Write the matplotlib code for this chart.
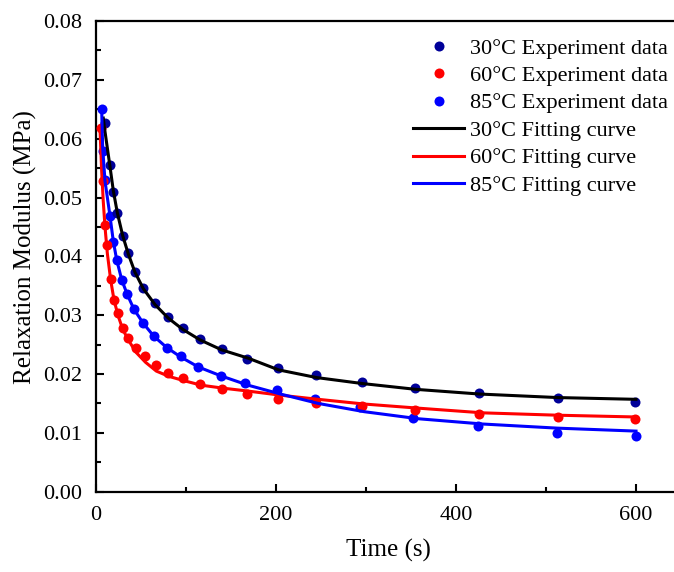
#!/usr/bin/env python3
"""Relaxation modulus vs time at three temperatures: experiment points and fitted curves."""

import matplotlib

matplotlib.use("Agg")
import matplotlib.pyplot as plt
from matplotlib.ticker import MultipleLocator

# experiment data (time in s, modulus in MPa)
t_30 = [10.0, 15.6, 19.2, 23.7, 29.7, 35.9, 43.3, 52.6, 65.6, 80.3, 96.3,
        115.6, 139.7, 167.4, 202.6, 244.4, 295.2, 354.4, 425.9, 513.0, 599.4]
e_30 = [0.0626, 0.0555, 0.0510, 0.0474, 0.0435, 0.0405, 0.0374, 0.0346, 0.0321, 0.0297, 0.0278,
        0.0259, 0.0242, 0.0225, 0.0211, 0.0199, 0.0187, 0.0177, 0.0167, 0.0159, 0.0152]

t_60 = [5.2, 7.4, 10.0, 12.6, 16.3, 20.0, 24.4, 29.7, 35.9, 44.4, 54.4, 66.7,
        80.3, 96.3, 115.6, 139.7, 167.4, 202.6, 244.4, 295.2, 354.4, 425.9, 513.0, 599.4]
e_60 = [0.0618, 0.0528, 0.0454, 0.0419, 0.0361, 0.0325, 0.0304, 0.0279, 0.0262, 0.0245, 0.0230, 0.0215,
        0.0202, 0.0193, 0.0183, 0.0174, 0.0166, 0.0158, 0.0150, 0.0146, 0.0139, 0.0132, 0.0127, 0.0124]

t_85 = [6.3, 7.4, 10.0, 15.6, 19.2, 23.0, 28.6, 34.8, 42.2, 52.6, 64.4, 78.6, 94.1,
        113.7, 138.6, 165.6, 201.4, 243.3, 293.0, 352.6, 424.8, 511.9, 599.7]
e_85 = [0.0650, 0.0579, 0.0530, 0.0469, 0.0425, 0.0393, 0.0359, 0.0336, 0.0311, 0.0287, 0.0265, 0.0245, 0.0230,
        0.0212, 0.0197, 0.0184, 0.0172, 0.0157, 0.0144, 0.0125, 0.0112, 0.0099, 0.0095]

# fitted curves
fit_t_30 = [8.1, 10.0, 15.6, 19.2, 23.7, 29.7, 35.9, 43.3, 52.6, 65.6, 80.3, 96.3, 115.6,
            139.7, 169.0, 203.0, 245.0, 295.0, 355.0, 426.0, 513.0, 600.0]
fit_e_30 = [0.0635, 0.0612, 0.0552, 0.0512, 0.0474, 0.0435, 0.0404, 0.0373, 0.0345, 0.0318, 0.0295, 0.0276, 0.0258,
            0.0241, 0.0227, 0.0207, 0.0194, 0.0184, 0.0174, 0.0166, 0.0160, 0.0157]

fit_t_60 = [4.4, 6.3, 8.0, 10.0, 12.6, 16.3, 20.0, 24.4, 29.7, 35.9, 44.4, 55.0, 67.0, 81.0,
            97.0, 117.0, 141.0, 169.0, 205.0, 247.0, 298.0, 358.0, 430.0, 513.0, 600.0]
fit_e_60 = [0.0618, 0.0545, 0.0495, 0.0450, 0.0405, 0.0360, 0.0326, 0.0300, 0.0276, 0.0258, 0.0237, 0.0220, 0.0205, 0.0196,
            0.0189, 0.0181, 0.0176, 0.0171, 0.0164, 0.0157, 0.0149, 0.0142, 0.0134, 0.0130, 0.0127]

fit_t_85 = [6.3, 7.4, 10.0, 15.6, 19.2, 23.0, 28.6, 34.8, 42.2, 52.6, 64.4, 78.6, 94.1,
            113.7, 138.6, 169.0, 205.0, 247.0, 298.0, 358.0, 430.0, 513.0, 600.0]
fit_e_85 = [0.0650, 0.0585, 0.0528, 0.0468, 0.0426, 0.0394, 0.0360, 0.0335, 0.0310, 0.0286, 0.0264, 0.0245, 0.0229,
            0.0212, 0.0197, 0.0181, 0.0166, 0.0150, 0.0136, 0.0124, 0.0115, 0.0108, 0.0103]

plt.rcParams["font.family"] = ["Liberation Serif", "DejaVu Serif"]

W, H = 674, 572
fig = plt.figure(figsize=(W / 100, H / 100), dpi=100)
x0_px, top_px, bot_px = 96, 21, 491.7
xmax = 650
ax = fig.add_axes([x0_px / W, (H - bot_px) / H, xmax * 0.9 / W, (bot_px - top_px) / H])

ms = 7.2
lw = 2.2
ax.plot(t_30, e_30, "o", color="#000099", ms=ms, mec="none", label="30\u00b0C Experiment data", zorder=3)
ax.plot(t_60, e_60, "o", color="#ff0000", ms=ms, mec="none", label="60\u00b0C Experiment data", zorder=3)
ax.plot(t_85, e_85, "o", color="#0000ff", ms=ms, mec="none", label="85\u00b0C Experiment data", zorder=2.9)
ax.plot(fit_t_30, fit_e_30, "-", color="black", lw=lw, label="30\u00b0C Fitting curve", zorder=4)
ax.plot(fit_t_60, fit_e_60, "-", color="#ff0000", lw=lw, label="60\u00b0C Fitting curve", zorder=4)
ax.plot(fit_t_85, fit_e_85, "-", color="#0000ff", lw=lw, label="85\u00b0C Fitting curve", zorder=4)

ax.set_xlim(0, xmax)
ax.set_ylim(0, 0.08)
ax.xaxis.set_major_locator(MultipleLocator(200))
ax.xaxis.set_minor_locator(MultipleLocator(100))
ax.yaxis.set_major_locator(MultipleLocator(0.01))
ax.yaxis.set_minor_locator(MultipleLocator(0.005))
ax.yaxis.set_major_formatter(plt.FormatStrFormatter("%.2f"))
ax.tick_params(which="both", direction="in", labelsize=16, width=1.5, top=False, right=False)
ax.tick_params(which="major", length=6, pad=10)
ax.tick_params(which="minor", length=3.5)
for side in ["left", "bottom", "top"]:
    ax.spines[side].set_linewidth(1.6)
ax.spines["right"].set_visible(False)

ax.set_xlabel("Time (s)", fontsize=18, labelpad=10)
ax.set_ylabel("Relaxation Modulus (MPa)", fontsize=18)
ax.yaxis.set_label_coords(-0.1, 0.52)

leg = ax.legend(loc="upper left", bbox_to_anchor=(413 / W, 1 - 38 / H), bbox_transform=fig.transFigure,
                frameon=False, fontsize=16, handlelength=2.3, handletextpad=0.25, labelspacing=0.31,
                borderpad=0, borderaxespad=0, numpoints=1)

fig.savefig("out.png", dpi=100)
